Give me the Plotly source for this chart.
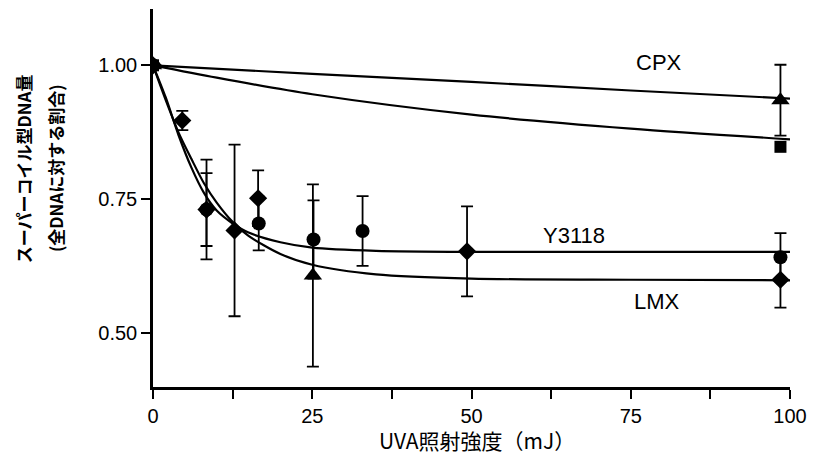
import plotly.graph_objects as go

# UVA dose (mJ) and supercoiled DNA fraction, per compound
y3118_dose = [0, 8.4, 16.6, 25.2, 32.9, 98.5]
y3118_frac = [1.00, 0.731, 0.705, 0.675, 0.691, 0.642]
y3118_err = [0, 0.093, 0.05, 0.073, 0.065, 0.045]

lmx_dose = [0, 4.6, 8.4, 12.8, 16.5, 49.3, 98.5]
lmx_frac = [1.00, 0.897, 0.731, 0.692, 0.752, 0.653, 0.600]
lmx_err = [0, 0.018, 0.068, 0.16, 0.052, 0.084, 0.052]

cpx_dose = [0, 25.1, 98.5]
cpx_frac = [1.00, 0.608, 0.935]
cpx_err = [0, 0.17, 0.066]

ctrl_dose = [0, 98.5]
ctrl_frac = [1.00, 0.848]

# fitted decay curves
fit_dose = [0, 2, 4, 6, 8, 10, 12.5, 15, 20, 25, 35, 50, 75, 100]
y3118_fit = [1.000, 0.940, 0.870, 0.810, 0.762, 0.729, 0.705, 0.688, 0.670, 0.660, 0.654, 0.652, 0.652, 0.652]
lmx_fit = [1.000, 0.935, 0.875, 0.826, 0.780, 0.744, 0.708, 0.682, 0.648, 0.628, 0.610, 0.602, 0.600, 0.599]
cpx_fit_dose = [0, 25, 50, 75, 100]
cpx_fit = [1.000, 0.984, 0.969, 0.953, 0.938]
ctrl_fit_dose = [0, 10, 25, 50, 75, 100]
ctrl_fit = [1.000, 0.977, 0.946, 0.908, 0.882, 0.862]

x_ticks = [0, 12.5, 25, 37.5, 50, 62.5, 75, 87.5, 100]
x_ticktext = ["0", "", "25", "", "50", "", "75", "", "100"]
y_ticks = [0.50, 0.75, 1.00]
y_ticktext = ["0.50", "0.75", "1.00"]

BLACK = "#000000"
fig = go.Figure()

line_style = dict(color=BLACK, width=2.2, shape="spline", smoothing=0.8)
for xs, ys in [(fit_dose, y3118_fit), (fit_dose, lmx_fit),
               (cpx_fit_dose, cpx_fit), (ctrl_fit_dose, ctrl_fit)]:
    fig.add_trace(go.Scatter(x=xs, y=ys, mode="lines", line=line_style,
                             hoverinfo="skip", showlegend=False))

err_style = dict(type="data", visible=True, color=BLACK, thickness=1.8, width=6)


def points(xs, ys, errs, symbol, size):
    e = dict(err_style, array=errs) if errs is not None else None
    fig.add_trace(go.Scatter(
        x=xs, y=ys, mode="markers", error_y=e,
        marker=dict(symbol=symbol, size=size, color=BLACK, line=dict(width=0)),
        showlegend=False))


points(ctrl_dose, ctrl_frac, None, "square", 12)
points(cpx_dose, cpx_frac, cpx_err, "triangle-up", 16)
points(lmx_dose, lmx_frac, lmx_err, "diamond", 14)
points(y3118_dose, y3118_frac, y3118_err, "circle", 14)

label_font = dict(family="Liberation Sans, Arial, sans-serif", size=22, color=BLACK)
annotations = [
    dict(x=79.4, y=1.006, text="CPX"),
    dict(x=66.1, y=0.683, text="Y3118"),
    dict(x=79.1, y=0.560, text="LMX"),
]
annotations = [dict(a, xref="x", yref="y", showarrow=False, font=label_font,
                    xanchor="center", yanchor="middle") for a in annotations]

jp_font = dict(family="Noto Sans CJK JP, sans-serif", size=17, color=BLACK)
annotations += [
    dict(x=-0.203, y=0.578, text="<b>スーパーコイル型DNA量</b>", textangle=-90),
    dict(x=-0.153, y=0.578, text="<b>(全DNAに対する割合)</b>", textangle=-90),
]
annotations[-2:] = [dict(a, xref="paper", yref="paper", showarrow=False,
                         font=jp_font, xanchor="center", yanchor="middle")
                    for a in annotations[-2:]]
annotations.append(dict(x=0.508, y=-0.141, xref="paper", yref="paper",
                        showarrow=False, xanchor="center", yanchor="middle",
                        text="UVA照射強度（mJ）",
                        font=dict(family="Noto Sans CJK JP, sans-serif",
                                  size=21, color=BLACK)))

tick_font = dict(family="Liberation Sans, Arial, sans-serif", size=20, color=BLACK)
fig.update_layout(
    width=816, height=474,
    margin=dict(l=153, r=23, t=9, b=87),
    paper_bgcolor="white", plot_bgcolor="white",
    annotations=annotations,
    xaxis=dict(range=[0, 100], tickvals=x_ticks, ticktext=x_ticktext,
               ticks="outside", ticklen=9, tickwidth=2, tickcolor=BLACK,
               showline=True, linecolor=BLACK, linewidth=2.5,
               showgrid=False, zeroline=False, tickfont=tick_font),
    yaxis=dict(range=[0.40, 1.105], tickvals=y_ticks, ticktext=y_ticktext,
               ticks="outside", ticklen=9, tickwidth=2, tickcolor=BLACK,
               showline=True, linecolor=BLACK, linewidth=2.5,
               showgrid=False, zeroline=False, tickfont=tick_font),
)

fig.write_html("out.html")
